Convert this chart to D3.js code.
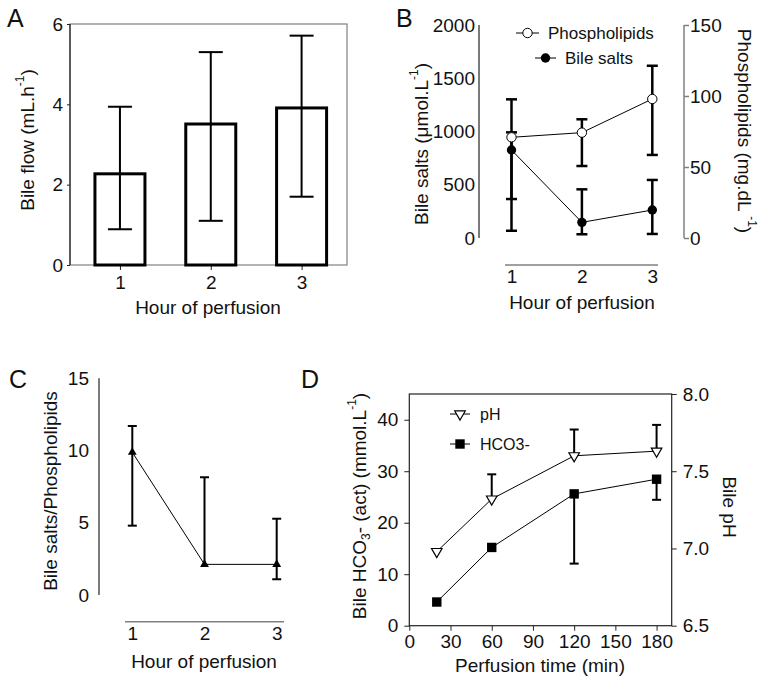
<!DOCTYPE html>
<html><head><meta charset="utf-8">
<script src="https://cdn.jsdelivr.net/npm/d3@7"></script>
<style>
body{margin:0;background:#fff;}
svg{display:block;font-family:"Liberation Sans",Arial,sans-serif;}
text{fill:#111;}
</style></head><body>
<svg id="chart" width="764" height="684"></svg>
<script>
// ---------- data ----------
const hours = [1, 2, 3];
const hourTicks = ["1", "2", "3"];
// Panel A
const bileFlow = [2.27, 3.51, 3.91];
const bileFlowUpper = [3.94, 5.30, 5.71];
const bileFlowLower = [0.89, 1.10, 1.70];
const bileFlowTicks = [0, 2, 4, 6];
// Panel B
const bileSalts = [826, 147, 263];
const bileSaltsUpper = [1302, 457, 545];
const bileSaltsLower = [366, 35, 38];
const phospholipids = [70.9, 74.2, 97.9];
const phosUpper = [74.4, 83.6, 121.3];
const phosLower = [5.1, 50.7, 58.5];
const bileSaltTicks = [0, 500, 1000, 1500, 2000];
const phosTicks = [0, 50, 100, 150];
// Panel C
const ratio = [9.88, 2.12, 2.12];
const ratioUpper = [11.7, 8.15, 5.28];
const ratioLower = [4.8, null, 1.09];
const ratioTicks = [0, 5, 10, 15];
// Panel D
const times = [20, 60, 120, 180];
const pH = [6.98, 7.32, 7.60, 7.63];
const pHUpper = [null, 7.48, 7.77, 7.80];
const hco3 = [4.6, 15.2, 25.6, 28.45];
const hco3Lower = [null, null, 12.06, 24.45];
const timeTicks = [0, 30, 60, 90, 120, 150, 180];
const hco3Ticks = [0, 10, 20, 30, 40];
const pHTicks = [6.5, 7.0, 7.5, 8.0];

const svg = d3.select("#chart");
const FS = 19;
const dark = "#222", gray = "#808080";

function styleAxis(g, color, sw) {
  g.selectAll("path.domain").remove();
  g.selectAll(".tick line").attr("stroke", color).attr("stroke-width", sw || 1);
  g.selectAll(".tick text").attr("font-size", FS).attr("fill", "#111")
    .attr("font-family", '"Liberation Sans",Arial,sans-serif');
}
function line(x1, y1, x2, y2, color, w) {
  svg.append("line").attr("x1", x1).attr("y1", y1).attr("x2", x2).attr("y2", y2)
    .attr("stroke", color).attr("stroke-width", w || 1);
}
function errBar(x, yLo, yHi, half, w) {
  line(x, yLo, x, yHi, "#000", w);
  line(x - half, yHi, x + half, yHi, "#000", w);
  line(x - half, yLo, x + half, yLo, "#000", w);
}
function errUp(x, y0, yHi, half, w) {
  line(x, y0, x, yHi, "#000", w);
  line(x - half, yHi, x + half, yHi, "#000", w);
}
function panelLetter(t, x, y) {
  svg.append("text").attr("x", x).attr("y", y).attr("font-size", 25).text(t);
}
function rotLabel(x, y, angle, parts, fs) {
  const t = svg.append("text")
    .attr("transform", `translate(${x},${y}) rotate(${angle})`)
    .attr("text-anchor", "middle").attr("dominant-baseline", "central")
    .attr("font-size", fs || FS);
  parts.forEach(p => {
    const s = t.append("tspan").text(p.t);
    if (p.sup) s.attr("font-size", 12).attr("baseline-shift", "super");
    if (p.sub) s.attr("font-size", 12).attr("baseline-shift", "sub");
  });
}
function hLabel(x, y, txt) {
  svg.append("text").attr("x", x).attr("y", y).attr("text-anchor", "middle")
    .attr("dominant-baseline", "central").attr("font-size", FS).text(txt);
}

// ================= Panel A =================
{
  const L = 70, R = 347, T = 24, B = 265;
  const x = d3.scaleLinear().domain([0.45, 3.5]).range([L, R]);
  const y = d3.scaleLinear().domain([0, 6]).range([B, T]);
  // frame
  svg.append("rect").attr("x", L).attr("y", T).attr("width", R - L).attr("height", B - T)
    .attr("fill", "none").attr("stroke", gray).attr("stroke-width", 1.2);
  line(L, T, L, B, dark, 1.2);
  const ya = svg.append("g").attr("transform", `translate(${L},0)`)
    .call(d3.axisLeft(y).tickValues(bileFlowTicks).tickFormat(d3.format("d")).tickSize(3).tickPadding(4));
  styleAxis(ya, dark);
  const xa = svg.append("g").attr("transform", `translate(0,${B})`)
    .call(d3.axisBottom(x).tickValues(hours).tickFormat((d, i) => hourTicks[i]).tickSize(5).tickPadding(6));
  styleAxis(xa, dark);
  // bars
  svg.selectAll(".barA").data(hours).enter().append("rect")
    .attr("x", d => x(d) - 25).attr("width", 50)
    .attr("y", (d, i) => y(bileFlow[i])).attr("height", (d, i) => y(0) - y(bileFlow[i]))
    .attr("fill", "#fff").attr("stroke", "#000").attr("stroke-width", 3);
  hours.forEach((h, i) => errBar(x(h), y(bileFlowLower[i]), y(bileFlowUpper[i]), 12, 2));
  rotLabel(27, 140, -90, [{t: "Bile flow (mL.h"}, {t: "-1", sup: true}, {t: ")"}]);
  hLabel(208, 307, "Hour of perfusion");
  panelLetter("A", 7, 27);
}

// ================= Panel B =================
{
  const x = d3.scaleLinear().domain([1, 3]).range([511.5, 652.3]);
  const yL = d3.scaleLinear().domain([0, 2000]).range([238, 25]);
  const yR = d3.scaleLinear().domain([0, 150]).range([238, 25]);
  line(479, 25, 479, 238, dark, 1.2);
  line(684, 25, 684, 238, gray, 1.5);
  line(505, 265, 658, 265, gray, 1.5);
  const la = svg.append("g").attr("transform", "translate(479,0)")
    .call(d3.axisLeft(yL).tickValues(bileSaltTicks).tickFormat(d3.format("d")).tickSize(0).tickPadding(4));
  styleAxis(la, dark);
  const ra = svg.append("g").attr("transform", "translate(684,0)")
    .call(d3.axisRight(yR).tickValues(phosTicks).tickFormat(d3.format("d")).tickSize(5).tickPadding(1));
  styleAxis(ra, gray, 1.5);
  const xa = svg.append("g").attr("transform", "translate(0,265)")
    .call(d3.axisBottom(x).tickValues(hours).tickFormat((d, i) => hourTicks[i]).tickSize(0).tickPadding(5));
  styleAxis(xa, dark);

  const lineGen = (ys, sc) => d3.line().x((d, i) => x(hours[i])).y((d, i) => sc(ys[i]));
  svg.append("path").datum(bileSalts).attr("d", lineGen(bileSalts, yL))
    .attr("fill", "none").attr("stroke", "#000").attr("stroke-width", 1);
  svg.append("path").datum(phospholipids).attr("d", lineGen(phospholipids, yR))
    .attr("fill", "none").attr("stroke", "#000").attr("stroke-width", 1);
  hours.forEach((h, i) => {
    errBar(x(h), yL(bileSaltsLower[i]), yL(bileSaltsUpper[i]), 5.5, 2.5);
    errBar(x(h), yR(phosLower[i]), yR(phosUpper[i]), 5.5, 2.5);
  });
  svg.selectAll(".bs").data(bileSalts).enter().append("circle")
    .attr("cx", (d, i) => x(hours[i])).attr("cy", d => yL(d)).attr("r", 4.7).attr("fill", "#000");
  svg.selectAll(".ph").data(phospholipids).enter().append("circle")
    .attr("cx", (d, i) => x(hours[i])).attr("cy", d => yR(d)).attr("r", 4.7)
    .attr("fill", "#fff").attr("stroke", "#000").attr("stroke-width", 1);
  // legend
  line(516, 33, 539, 33, "#000", 1);
  svg.append("circle").attr("cx", 527.5).attr("cy", 33).attr("r", 4.7).attr("fill", "#fff").attr("stroke", "#000");
  svg.append("text").attr("x", 548).attr("y", 33).attr("dominant-baseline", "central").attr("font-size", 17).text("Phospholipids");
  line(535, 58, 556, 58, "#000", 1);
  svg.append("circle").attr("cx", 545.5).attr("cy", 58).attr("r", 4.7).attr("fill", "#000");
  svg.append("text").attr("x", 565).attr("y", 58).attr("dominant-baseline", "central").attr("font-size", 17).text("Bile salts");

  rotLabel(421, 144, -90, [{t: "Bile salts (\u03bcmol.L"}, {t: "-1", sup: true}, {t: ")"}]);
  rotLabel(745, 131, 90, [{t: "Phospholipids (mg.dL "}, {t: "-1", sup: true}, {t: ")"}]);
  hLabel(582, 302, "Hour of perfusion");
  panelLetter("B", 396, 27);
}

// ================= Panel C =================
{
  const x = d3.scaleLinear().domain([1, 3]).range([132.3, 276.7]);
  const y = d3.scaleLinear().domain([0, 15]).range([595, 378.3]);
  line(99, 378.3, 99, 595, dark, 1.2);
  line(125, 621.7, 284, 621.7, gray, 1.5);
  const ya = svg.append("g").attr("transform", "translate(99,0)")
    .call(d3.axisLeft(y).tickValues(ratioTicks).tickFormat(d3.format("d")).tickSize(0).tickPadding(10));
  styleAxis(ya, dark);
  const xa = svg.append("g").attr("transform", "translate(0,621.7)")
    .call(d3.axisBottom(x).tickValues(hours).tickFormat((d, i) => hourTicks[i]).tickSize(0).tickPadding(5));
  styleAxis(xa, dark);
  svg.append("path").datum(ratio)
    .attr("d", d3.line().x((d, i) => x(hours[i])).y(d => y(d)))
    .attr("fill", "none").attr("stroke", "#000").attr("stroke-width", 1);
  hours.forEach((h, i) => {
    const lo = ratioLower[i] == null ? ratio[i] : ratioLower[i];
    line(x(h), y(lo), x(h), y(ratioUpper[i]), "#000", 2);
    line(x(h) - 4.5, y(ratioUpper[i]), x(h) + 4.5, y(ratioUpper[i]), "#000", 2);
    if (ratioLower[i] != null) line(x(h) - 4.5, y(lo), x(h) + 4.5, y(lo), "#000", 2);
  });
  const tri = d3.symbol().type(d3.symbolTriangle).size(34);
  svg.selectAll(".rt").data(ratio).enter().append("path")
    .attr("d", tri).attr("transform", (d, i) => `translate(${x(hours[i])},${y(d)})`).attr("fill", "#000");
  rotLabel(50, 491, -90, [{t: "Bile salts/Phospholipids"}]);
  hLabel(204, 661, "Hour of perfusion");
  panelLetter("C", 9, 388);
}

// ================= Panel D =================
{
  const L = 409.3, R = 671.7, T = 394, B = 625.7;
  const x = d3.scaleLinear().domain([0, 191]).range([L, R]);
  const yL = d3.scaleLinear().domain([0, 45]).range([B, T]);
  const yR = d3.scaleLinear().domain([6.5, 8.0]).range([B, T]);
  svg.append("rect").attr("x", L).attr("y", T).attr("width", R - L).attr("height", B - T)
    .attr("fill", "none").attr("stroke", dark).attr("stroke-width", 1.2);
  const la = svg.append("g").attr("transform", `translate(${L},0)`)
    .call(d3.axisLeft(yL).tickValues(hco3Ticks).tickFormat(d3.format("d")).tickSize(5).tickPadding(6));
  styleAxis(la, dark);
  const ra = svg.append("g").attr("transform", `translate(${R},0)`)
    .call(d3.axisRight(yR).tickValues(pHTicks).tickFormat(d3.format(".1f")).tickSize(5).tickPadding(6));
  styleAxis(ra, dark);
  const xa = svg.append("g").attr("transform", `translate(0,${B})`)
    .call(d3.axisBottom(x).tickValues(timeTicks).tickFormat(d3.format("d")).tickSize(5).tickPadding(4));
  styleAxis(xa, dark);

  svg.append("path").datum(pH)
    .attr("d", d3.line().x((d, i) => x(times[i])).y(d => yR(d)))
    .attr("fill", "none").attr("stroke", "#000").attr("stroke-width", 1);
  svg.append("path").datum(hco3)
    .attr("d", d3.line().x((d, i) => x(times[i])).y(d => yL(d)))
    .attr("fill", "none").attr("stroke", "#000").attr("stroke-width", 1);
  times.forEach((t, i) => {
    if (pHUpper[i] != null) errUp(x(t), yR(pH[i]), yR(pHUpper[i]), 4.5, 2);
    if (hco3Lower[i] != null) errUp(x(t), yL(hco3[i]), yL(hco3Lower[i]), 4.5, 2);
  });
  const tri = d3.symbol().type(d3.symbolTriangle).size(48);
  svg.selectAll(".pht").data(pH).enter().append("path")
    .attr("d", tri).attr("transform", (d, i) => `translate(${x(times[i])},${yR(d)}) rotate(180)`)
    .attr("fill", "#fff").attr("stroke", "#000").attr("stroke-width", 1.2);
  svg.selectAll(".hsq").data(hco3).enter().append("rect")
    .attr("x", (d, i) => x(times[i]) - 4.7).attr("y", d => yL(d) - 4.7)
    .attr("width", 9.4).attr("height", 9.4).attr("fill", "#000");
  // legend
  line(450, 414, 470, 414, "#000", 1);
  svg.append("path").attr("d", tri).attr("transform", "translate(460,414) rotate(180)")
    .attr("fill", "#fff").attr("stroke", "#000").attr("stroke-width", 1.2);
  svg.append("text").attr("x", 480).attr("y", 414).attr("dominant-baseline", "central").attr("font-size", 16).text("pH");
  line(450, 444, 470, 444, "#000", 1);
  svg.append("rect").attr("x", 455.3).attr("y", 439.3).attr("width", 9.4).attr("height", 9.4).attr("fill", "#000");
  svg.append("text").attr("x", 480).attr("y", 444).attr("dominant-baseline", "central").attr("font-size", 16).text("HCO3-");

  rotLabel(359, 506, -90, [{t: "Bile HCO"}, {t: "3", sub: true}, {t: "- (act) (mmol.L"}, {t: "-1", sup: true}, {t: ")"}]);
  rotLabel(730, 507, 90, [{t: "Bile pH"}]);
  hLabel(540, 665, "Perfusion time (min)");
  panelLetter("D", 301, 388);
}
</script>
</body></html>
